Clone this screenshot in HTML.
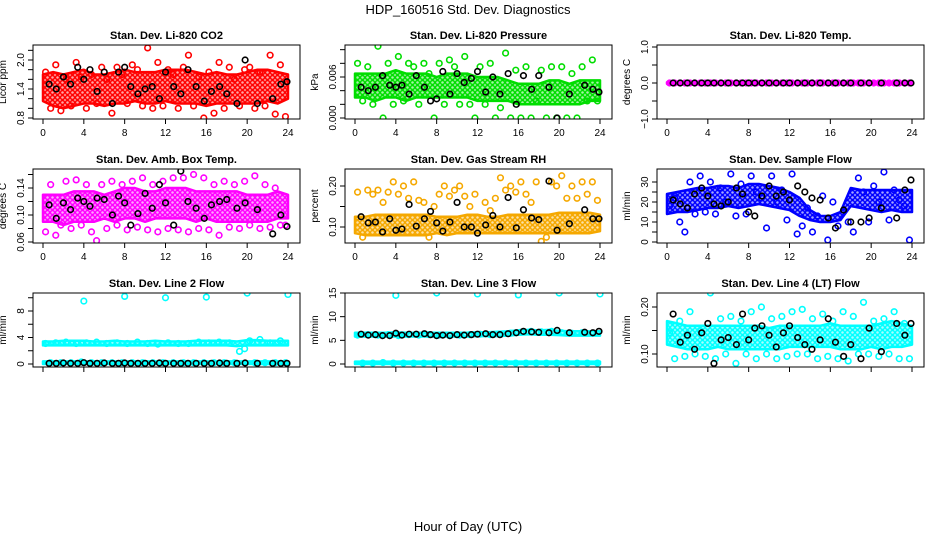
<!DOCTYPE html>
<html><head><meta charset="utf-8"><style>
html,body{margin:0;padding:0;background:#fff}
svg text{font-family:"Liberation Sans",sans-serif}
</style></head><body>
<svg id="chart" width="936" height="540" viewBox="0 0 936 540" xmlns="http://www.w3.org/2000/svg">
<text x="468" y="14" text-anchor="middle" font-size="13">HDP_160516  Std. Dev. Diagnostics</text>
<text x="468" y="531" text-anchor="middle" font-size="13">Hour of Day (UTC)</text>
</svg>
<script>
const xTicks=[0,4,8,12,16,20,24];
const bandHours=[0,1,2,3,4,5,6,7,8,9,10,11,12,13,14,15,16,17,18,19,20,21,22,23,24];
const ptHours=[0.25,0.75,1.25,1.75,2.25,2.75,3.25,3.75,4.25,4.75,5.25,5.75,6.25,6.75,7.25,7.75,8.25,8.75,9.25,9.75,10.25,10.75,11.25,11.75,12.25,12.75,13.25,13.75,14.25,14.75,15.25,15.75,16.25,16.75,17.25,17.75,18.25,18.75,19.25,19.75,20.25,20.75,21.25,21.75,22.25,22.75,23.25,23.75];
const blkHours=[0.6,1.3,2.0,2.7,3.4,4.0,4.6,5.3,6.0,6.8,7.4,8.0,8.6,9.3,10.0,10.7,11.4,12.0,12.8,13.5,14.2,15.0,15.8,16.5,17.3,18.0,19.0,19.8,21.0,22.5,23.3,23.9];
const outHours=[4,8,12,16,20,24];

const titles=["Stan. Dev. Li-820 CO2","Stan. Dev. Li-820 Pressure","Stan. Dev. Li-820 Temp.","Stan. Dev. Amb. Box Temp.","Stan. Dev. Gas Stream RH","Stan. Dev. Sample Flow","Stan. Dev. Line 2 Flow","Stan. Dev. Line 3 Flow","Stan. Dev. Line 4 (LT) Flow"];
const yLabels=["Licor ppm","kPa","degrees C","degrees C","percent","ml/min","ml/min","ml/min","ml/min"];
const colors=["#ff0000","#00dd00","#ff00ff","#ff00ff","#f5a800","#0000ff","#00ffff","#00ffff","#00ffff"];

const yTicks1=[0.8,1.0,1.2,1.4,1.6,1.8,2.0,2.2], yTickLab1=["0.8","","","1.4","","","2.0",""];
const yTicks2=[0,0.002,0.004,0.006,0.008,0.010], yTickLab2=["0.000","","","0.006","",""];
const yTicks3=[-1,-0.5,0,0.5,1], yTickLab3=["\u22121.0","","0.0","","1.0"];
const yTicks4=[0.06,0.08,0.10,0.12,0.14,0.16], yTickLab4=["0.06","","0.10","","0.14",""];
const yTicks5=[0.10,0.15,0.20], yTickLab5=["0.10","","0.20"];
const yTicks6=[0,5,10,15,20,25,30], yTickLab6=["0","","10","","20","","30"];
const yTicks7=[0,2,4,6,8,10], yTickLab7=["0","","4","","8",""];
const yTicks8=[0,5,10,15], yTickLab8=["0","5","10","15"];
const yTicks9=[0.10,0.15,0.20], yTickLab9=["0.10","","0.20"];

const lo1=[1.15,1.05,1.0,1.05,1.1,1.1,1.05,1.1,1.1,1.15,1.1,1.1,1.15,1.1,1.1,1.1,1.05,1.1,1.1,1.1,1.1,1.1,1.15,1.1,1.2];
const hi1=[1.7,1.75,1.7,1.75,1.8,1.7,1.7,1.75,1.8,1.75,1.75,1.75,1.8,1.8,1.8,1.75,1.7,1.75,1.7,1.7,1.75,1.8,1.8,1.75,1.7];
const pts1=[1.75,1.0,1.9,0.95,1.6,1.05,1.95,1.65,1.0,1.7,1.1,1.85,1.6,0.9,1.85,1.7,1.1,1.9,1.8,1.05,2.25,1.0,1.95,1.05,1.8,1.7,1.0,1.85,2.1,1.05,1.65,0.8,1.75,0.9,1.95,1.0,1.85,1.6,1.05,1.8,1.85,1.0,1.75,1.05,2.1,0.88,1.9,0.83];
const blk1=[1.5,1.4,1.65,1.5,1.85,1.6,1.8,1.35,1.75,1.1,1.75,1.85,1.45,1.3,1.4,1.45,1.2,1.75,1.45,1.3,1.8,1.45,1.15,1.35,1.45,1.3,1.1,2.0,1.1,1.2,1.5,1.55];

const lo2=[0.003,0.003,0.0025,0.003,0.003,0.0025,0.003,0.003,0.003,0.003,0.003,0.003,0.0025,0.0025,0.0025,0.0025,0.002,0.002,0.002,0.002,0.002,0.002,0.002,0.0025,0.0025];
const hi2=[0.0065,0.0065,0.0065,0.0065,0.007,0.0065,0.0065,0.0065,0.006,0.0065,0.0065,0.0065,0.006,0.006,0.006,0.0055,0.005,0.005,0.005,0.0055,0.0055,0.005,0.0055,0.0055,0.0055];
const pts2=[0.008,0.0025,0.0075,0.002,0.0105,0.0,0.008,0.002,0.009,0.0025,0.008,0.0075,0.002,0.008,0.0065,0.0,0.008,0.002,0.0085,0.0075,0.002,0.009,0.002,0.0,0.0075,0.002,0.008,0.0,0.0015,0.0095,0.0,0.007,0.0,0.0075,0.0,0.0025,0.007,0.0,0.0075,0.0,0.0075,0.0,0.0065,0.0,0.0075,0.0025,0.0085,0.0025];
const blk2=[0.0045,0.004,0.0045,0.0062,0.0048,0.0045,0.0048,0.0035,0.0062,0.0045,0.0025,0.0028,0.0068,0.0035,0.0065,0.0052,0.0058,0.0068,0.0038,0.006,0.0035,0.0065,0.002,0.0062,0.0042,0.0062,0.0045,0.0,0.0035,0.0048,0.0042,0.0038];

const lo3=[-0.02,-0.02,-0.02,-0.02,-0.02,-0.02,-0.02,-0.02,-0.02,-0.02,-0.02,-0.02,-0.02,-0.02,-0.02,-0.02,-0.02,-0.02,-0.02,-0.02,-0.02,-0.02,-0.02,-0.02,-0.02];
const hi3=[0.02,0.02,0.02,0.02,0.02,0.02,0.02,0.02,0.02,0.02,0.02,0.02,0.02,0.02,0.02,0.02,0.02,0.02,0.02,0.02,0.02,0.02,0.02,0.02,0.02];
const pts3=[0,0,0,0,0,0,0,0,0,0,0,0,0,0,0,0,0,0,0,0,0,0,0,0,0,0,0,0,0,0,0,0,0,0,0,0,0,0,0,0,0,0,0,0,0,0,0,0];
const blk3=[0,0,0,0,0,0,0,0,0,0,0,0,0,0,0,0,0,0,0,0,0,0,0,0,0,0,0,0,0,0,0,0];

const lo4=[0.09,0.09,0.085,0.09,0.09,0.09,0.095,0.09,0.095,0.095,0.09,0.095,0.095,0.095,0.095,0.09,0.095,0.09,0.09,0.09,0.09,0.09,0.09,0.095,0.095];
const hi4=[0.13,0.13,0.13,0.135,0.135,0.135,0.13,0.135,0.14,0.14,0.135,0.135,0.14,0.14,0.14,0.135,0.135,0.135,0.135,0.135,0.13,0.13,0.13,0.135,0.13];
const pts4=[0.075,0.145,0.07,0.085,0.15,0.08,0.152,0.085,0.145,0.075,0.062,0.145,0.08,0.15,0.085,0.145,0.078,0.15,0.082,0.155,0.078,0.145,0.075,0.15,0.08,0.155,0.078,0.155,0.075,0.16,0.08,0.155,0.078,0.145,0.07,0.15,0.082,0.145,0.08,0.15,0.085,0.158,0.08,0.145,0.082,0.14,0.085,0.085];
const blk4=[0.115,0.095,0.118,0.108,0.125,0.12,0.113,0.125,0.123,0.1,0.128,0.118,0.085,0.102,0.132,0.11,0.145,0.118,0.085,0.165,0.12,0.11,0.095,0.115,0.12,0.123,0.11,0.118,0.108,0.072,0.1,0.083];

const lo5=[0.085,0.08,0.08,0.08,0.08,0.08,0.08,0.08,0.085,0.08,0.085,0.085,0.085,0.085,0.085,0.085,0.085,0.085,0.085,0.085,0.085,0.085,0.085,0.085,0.09];
const hi5=[0.125,0.125,0.13,0.13,0.13,0.13,0.13,0.13,0.125,0.125,0.125,0.13,0.13,0.125,0.125,0.13,0.13,0.13,0.13,0.13,0.135,0.135,0.135,0.135,0.13];
const pts5=[0.185,0.075,0.19,0.18,0.19,0.16,0.185,0.21,0.18,0.2,0.17,0.21,0.165,0.16,0.075,0.15,0.18,0.2,0.175,0.19,0.2,0.175,0.15,0.18,0.25,0.16,0.14,0.17,0.22,0.19,0.2,0.185,0.21,0.18,0.16,0.21,0.065,0.075,0.21,0.2,0.225,0.17,0.2,0.17,0.21,0.18,0.21,0.165];
const blk5=[0.125,0.11,0.112,0.088,0.12,0.092,0.095,0.155,0.102,0.12,0.138,0.11,0.09,0.112,0.16,0.1,0.1,0.085,0.105,0.128,0.1,0.172,0.098,0.142,0.122,0.118,0.212,0.092,0.108,0.142,0.12,0.12];

const lo6=[14,15,15,16,17,17,18,17,18,19,18,17,16,13,11,10,10,11,18,17,16,15,16,15,15];
const hi6=[24,25,26,27,27,28,28,27,29,29,28,27,25,22,16,13,13,15,27,26,26,26,26,26,26];
const pts6=[18,22,10,5,30,14,33,15,30,14,27,20,34,13,29,14,33,25,22,7,33,20,26,11,34,4,8,17,5,13,23,1,20,8,15,10,5,32,25,10,28,20,35,11,26,21,18,1];
const blk6=[21,19,17,24,27,23,19,18,20,27,24,15,13,23,28,23,25,21,28,25,22,21,12,7,16,10,10,12,17,12,26,31];

const lo7=[2.8,2.8,2.8,2.8,2.8,2.8,2.8,2.8,2.8,2.8,2.8,2.8,2.8,2.8,2.8,2.8,2.8,2.8,2.8,2.7,2.8,2.8,2.8,2.8,2.8];
const hi7=[3.4,3.4,3.5,3.5,3.5,3.4,3.4,3.5,3.4,3.4,3.4,3.5,3.4,3.4,3.4,3.5,3.5,3.5,3.5,3.4,3.6,3.6,3.5,3.5,3.5];
const lo7b=[0,0,0,0,0,0,0,0,0,0,0,0,0,0,0,0,0,0,0,0,0,0,0,0,0];
const hi7b=[0.4,0.4,0.4,0.4,0.4,0.4,0.4,0.4,0.4,0.4,0.4,0.4,0.4,0.4,0.4,0.4,0.4,0.4,0.4,0.4,0.4,0.4,0.4,0.4,0.4];
const pts7=[3.1,0.2,3.2,0.2,3.3,0.2,3.1,0.3,3.2,0.2,3.3,0.2,3.1,0.2,3.2,0.2,3.1,0.2,3.3,0.2,3.1,0.2,3.0,0.2,3.2,0.2,3.1,0.2,3.1,0.2,3.3,0.2,3.2,0.2,3.3,0.2,3.2,0.2,1.9,2.3,3.5,0.2,3.7,0.2,3.2,0.2,3.5,0.2];
const blk7=[0.1,0.1,0.15,0.1,0.1,0.2,0.1,0.1,0.15,0.1,0.1,0.15,0.1,0.1,0.1,0.1,0.15,0.1,0.1,0.1,0.1,0.1,0.1,0.1,0.15,0.1,0.1,0.15,0.1,0.1,0.1,0.1];
const out7=[9.5,10.2,10.0,10.1,10.7,10.5];

const lo8=[5.8,5.8,5.8,5.8,5.8,5.8,5.8,5.8,5.8,5.8,5.8,5.8,5.9,5.9,5.9,6.0,6.2,6.3,6.2,6.2,6.1,6.0,6.0,6.0,6.0];
const hi8=[6.6,6.6,6.6,6.6,6.7,6.6,6.6,6.6,6.6,6.6,6.6,6.6,6.7,6.7,6.8,6.9,7.1,7.2,7.1,7.2,7.0,6.9,6.9,6.9,6.9];
const lo8b=[0,0,0,0,0,0,0,0,0,0,0,0,0,0,0,0,0,0,0,0,0,0,0,0,0];
const hi8b=[0.5,0.5,0.5,0.5,0.5,0.5,0.5,0.5,0.5,0.5,0.5,0.5,0.5,0.5,0.5,0.5,0.5,0.5,0.5,0.5,0.5,0.5,0.5,0.5,0.5];
const pts8=[6.1,0.2,6.2,0.2,6.1,0.3,6.2,0.2,6.0,0.2,6.2,0.2,6.1,0.2,6.2,0.2,6.1,0.2,6.0,0.2,6.1,0.2,6.2,0.2,6.3,0.2,6.2,0.2,6.3,0.2,6.5,0.2,6.7,0.2,6.9,0.2,6.8,0.2,6.9,0.2,6.6,0.2,6.5,0.2,6.6,0.2,6.5,0.2];
const blk8=[6.3,6.1,6.2,6.0,6.0,6.5,6.1,6.3,6.3,6.4,6.2,6.0,6.1,6.0,6.2,6.1,6.2,6.3,6.4,6.2,6.2,6.4,6.6,6.9,6.8,6.7,6.6,7.1,6.6,6.7,6.6,6.9];
const out8=[14.5,15.0,14.8,14.6,15.0,14.8];

const lo9=[0.12,0.115,0.11,0.11,0.11,0.115,0.11,0.11,0.11,0.11,0.11,0.11,0.115,0.115,0.115,0.115,0.115,0.11,0.11,0.11,0.115,0.11,0.115,0.115,0.12];
const hi9=[0.17,0.165,0.16,0.16,0.16,0.16,0.16,0.16,0.16,0.16,0.155,0.16,0.16,0.16,0.16,0.16,0.165,0.16,0.16,0.16,0.16,0.165,0.17,0.165,0.16];
const pts9=[0.145,0.09,0.17,0.095,0.19,0.1,0.15,0.095,0.23,0.09,0.175,0.1,0.18,0.08,0.17,0.1,0.19,0.09,0.2,0.1,0.175,0.09,0.18,0.095,0.19,0.1,0.195,0.1,0.175,0.09,0.185,0.095,0.17,0.09,0.19,0.085,0.18,0.1,0.21,0.1,0.17,0.095,0.175,0.1,0.19,0.09,0.165,0.09];
const blk9=[0.185,0.125,0.14,0.11,0.145,0.165,0.08,0.13,0.135,0.12,0.185,0.13,0.155,0.16,0.14,0.115,0.145,0.16,0.135,0.12,0.11,0.13,0.175,0.125,0.095,0.12,0.09,0.155,0.105,0.165,0.14,0.165];

const panels=[
 {ticks:yTicks1,labs:yTickLab1,cal:[0.8,118,2.0,60],bands:[[lo1,hi1]],pts:pts1,blk:blk1,out:null},
 {ticks:yTicks2,labs:yTickLab2,cal:[0,118,0.006,77],bands:[[lo2,hi2]],pts:pts2,blk:blk2,out:null},
 {ticks:yTicks3,labs:yTickLab3,cal:[0,83,1,47],bands:[[lo3,hi3]],pts:pts3,blk:blk3,out:null},
 {ticks:yTicks4,labs:yTickLab4,cal:[0.06,242,0.14,188],bands:[[lo4,hi4]],pts:pts4,blk:blk4,out:null},
 {ticks:yTicks5,labs:yTickLab5,cal:[0.10,227,0.20,186],bands:[[lo5,hi5]],pts:pts5,blk:blk5,out:null},
 {ticks:yTicks6,labs:yTickLab6,cal:[0,242,30,182],bands:[[lo6,hi6]],pts:pts6,blk:blk6,out:null},
 {ticks:yTicks7,labs:yTickLab7,cal:[0,364,8,311],bands:[[lo7,hi7],[lo7b,hi7b]],pts:pts7,blk:blk7,out:out7},
 {ticks:yTicks8,labs:yTickLab8,cal:[0,364,15,293],bands:[[lo8,hi8],[lo8b,hi8b]],pts:pts8,blk:blk8,out:out8},
 {ticks:yTicks9,labs:yTickLab9,cal:[0.10,354,0.20,307],bands:[[lo9,hi9]],pts:pts9,blk:blk9,out:null}
];

const svg=document.getElementById('chart');
const NS='http://www.w3.org/2000/svg';
function mk(tag,attrs,parent){const e=document.createElementNS(NS,tag);for(const k in attrs)e.setAttribute(k,attrs[k]);(parent||svg).appendChild(e);return e;}
const defs=mk('defs',{});
colors.forEach((c,i)=>{
  const pat=mk('pattern',{id:'pat'+i,width:5,height:5,patternUnits:'userSpaceOnUse'},defs);
  mk('rect',{x:0,y:0,width:5,height:5,fill:c,opacity:0.35},pat);
  mk('circle',{cx:2.5,cy:2.5,r:2,fill:'none',stroke:c,'stroke-width':1.4},pat);
});
const colX=[43,355,667], rowTop=[45,169,293], boxH=74, spanX=245;

panels.forEach((p,i)=>{
  const col=i%3,row=Math.floor(i/3);
  const x0=colX[col], top=rowTop[row], bot=top+boxH;
  const xs=h=>x0+h/24*spanX;
  const [v1,p1,v2,p2]=p.cal;
  const ys=v=>p1+(v-v1)*(p2-p1)/(v2-v1);
  const g=mk('g',{});
  
  
  const left=x0-10,right=x0+spanX+12;
  const clipId='clip'+i;
  const cp=mk('clipPath',{id:clipId},g);mk('rect',{x:left,y:top,width:right-left,height:boxH},cp);
  const t=mk('text',{x:(left+right)/2,y:top-6,'text-anchor':'middle','font-size':'11','font-weight':'bold'},g);
  t.textContent=titles[i];
  
  
  const yl=mk('text',{x:0,y:0,'text-anchor':'middle','font-size':'10',transform:`translate(${left-27},${top+boxH/2}) rotate(-90)`},g);
  yl.textContent=yLabels[i];
  
  
  const plot=mk('g',{'clip-path':`url(#${clipId})`},g);
  p.bands.forEach(b=>{
    let d='';
    bandHours.forEach((h,k)=>{d+=(k?'L':'M')+xs(h).toFixed(1)+','+ys(b[1][k]).toFixed(1);});
    for(let k=bandHours.length-1;k>=0;k--)d+='L'+xs(bandHours[k]).toFixed(1)+','+ys(b[0][k]).toFixed(1);
    const bp=mk('path',{d:d+'Z',fill:`url(#pat${i})`,stroke:colors[i],'stroke-width':2.5,'stroke-linejoin':'round'},plot);
    
    
  });
  ptHours.forEach((h,k)=>{
    if(k>=p.pts.length)return;
    const c=mk('circle',{cx:xs(h),cy:ys(p.pts[k]),r:2.8,fill:'none',stroke:colors[i],'stroke-width':1.6},plot);
    
    
  });
  if(p.out){outHours.forEach((h,k)=>{
    const c=mk('circle',{cx:xs(h),cy:ys(p.out[k]),r:2.8,fill:'none',stroke:colors[i],'stroke-width':1.6},plot);
    
    
  });}
  blkHours.forEach((h,k)=>{
    if(k>=p.blk.length)return;
    const c=mk('circle',{cx:xs(h),cy:ys(p.blk[k]),r:2.8,fill:'none',stroke:'#000','stroke-width':1.6},plot);
    
    
  });
  const box=mk('rect',{x:left,y:top,width:right-left,height:boxH,fill:'none',stroke:'#000','stroke-width':1},g);
  
  
  xTicks.forEach(v=>{
    mk('line',{x1:xs(v),x2:xs(v),y1:bot,y2:bot+5,stroke:'#000'},g);
    if(row<2){const tx=mk('text',{x:xs(v),y:bot+17,'text-anchor':'middle','font-size':'10'},g);tx.textContent=v;
      
      }
  });
  p.ticks.forEach((v,k)=>{
    const y=ys(v);
    mk('line',{x1:left,x2:left-5,y1:y,y2:y,stroke:'#000'},g);
    if(p.labs[k]){const ty=mk('text',{x:0,y:0,'text-anchor':'middle','font-size':'10',transform:`translate(${left-9},${y}) rotate(-90)`},g);ty.textContent=p.labs[k];
      
      }
  });
});
</script>
</body></html>
